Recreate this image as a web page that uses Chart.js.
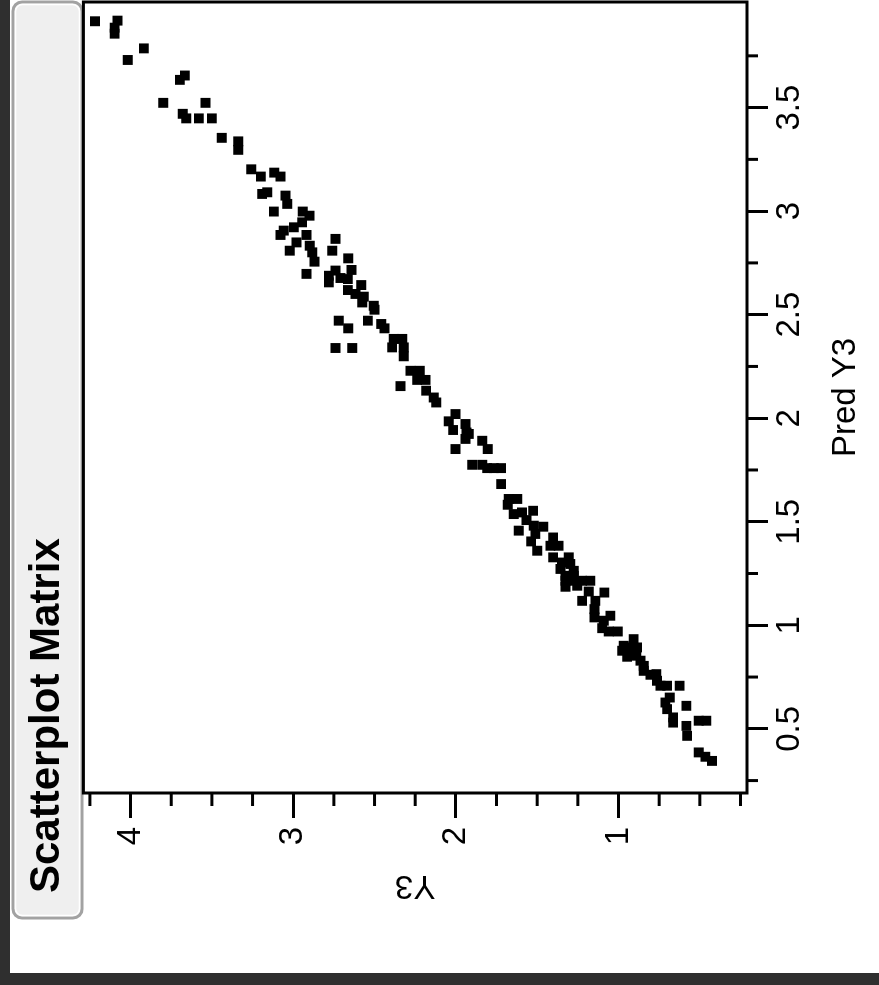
<!DOCTYPE html>
<html>
<head>
<meta charset="utf-8">
<script src="https://cdn.jsdelivr.net/npm/chart.js@4/dist/chart.umd.min.js"></script>
<style>
  body { margin: 0; width: 879px; height: 985px; overflow: hidden; background: #2f2f2f; }
  #wrap {
    position: absolute; left: 10px; top: 0;
    width: 973px; height: 869px;
    transform-origin: 0 0;
    transform: translate(0, 973px) rotate(-90deg);
    background: #fff;
  }
  canvas { display: block; }
</style>
</head>
<body>
<div id="wrap"><canvas id="chart" width="973" height="869"></canvas></div>
<script>
// values
const predY3 = [
  3.917, 3.920, 3.886, 3.857, 3.786, 3.730, 3.655, 3.634, 3.523, 3.523,
  3.470, 3.448, 3.448, 3.448, 3.354, 3.337, 3.296, 3.202, 3.167, 3.186,
  3.167, 3.083, 3.091, 3.075, 3.035, 2.998, 2.998, 2.978, 2.946, 2.922,
  2.906, 2.885, 2.885, 2.849, 2.809, 2.833, 2.801, 2.756, 2.697, 2.866,
  2.809, 2.772, 2.716, 2.713, 2.688, 2.656, 2.677, 2.672, 2.619, 2.643,
  2.600, 2.587, 2.559, 2.543, 2.524, 2.471, 2.471, 2.434, 2.455, 2.434,
  2.383, 2.383, 2.342, 2.342, 2.299, 2.339, 2.339, 2.229, 2.229, 2.185,
  2.185, 2.155, 2.133, 2.100, 2.076, 2.020, 1.985, 1.943, 1.972, 1.931,
  1.924, 1.900, 1.851, 1.891, 1.851, 1.775, 1.775, 1.759, 1.759, 1.759,
  1.682, 1.610, 1.610, 1.582, 1.537, 1.545, 1.553, 1.508, 1.457, 1.481,
  1.476, 1.441, 1.405, 1.360, 1.424, 1.384, 1.384, 1.328, 1.328, 1.303,
  1.296, 1.272, 1.263, 1.239, 1.239, 1.215, 1.215, 1.215, 1.215, 1.186,
  1.191, 1.163, 1.158, 1.118, 1.118, 1.078, 1.038, 1.046, 1.022, 0.986,
  0.970, 0.970, 0.933, 0.901, 0.893, 0.893, 0.877, 0.861, 0.848, 0.853,
  0.829, 0.804, 0.780, 0.761, 0.764, 0.732, 0.708, 0.708, 0.708, 0.651,
  0.627, 0.595, 0.555, 0.530, 0.611, 0.539, 0.539, 0.514, 0.466, 0.386,
  0.365, 0.345
];
const y3 = [
  4.219, 4.080, 4.098, 4.098, 3.918, 4.017, 3.666, 3.697, 3.799, 3.539,
  3.679, 3.658, 3.580, 3.500, 3.439, 3.338, 3.338, 3.258, 3.199, 3.117,
  3.078, 3.191, 3.160, 3.047, 3.037, 3.119, 2.941, 2.900, 2.945, 2.996,
  3.058, 3.078, 2.918, 2.980, 3.021, 2.898, 2.883, 2.869, 2.918, 2.740,
  2.760, 2.662, 2.642, 2.740, 2.781, 2.781, 2.709, 2.664, 2.664, 2.582,
  2.617, 2.566, 2.576, 2.505, 2.500, 2.541, 2.720, 2.662, 2.459, 2.439,
  2.382, 2.330, 2.392, 2.320, 2.320, 2.740, 2.637, 2.279, 2.222, 2.238,
  2.187, 2.340, 2.183, 2.136, 2.121, 2.002, 2.044, 2.017, 1.941, 1.935,
  1.921, 1.941, 2.002, 1.838, 1.804, 1.900, 1.838, 1.808, 1.767, 1.722,
  1.722, 1.675, 1.623, 1.681, 1.644, 1.593, 1.525, 1.566, 1.613, 1.521,
  1.463, 1.511, 1.537, 1.500, 1.402, 1.419, 1.368, 1.402, 1.306, 1.347,
  1.296, 1.357, 1.275, 1.326, 1.275, 1.326, 1.275, 1.224, 1.173, 1.326,
  1.254, 1.183, 1.087, 1.224, 1.142, 1.148, 1.148, 1.050, 1.091, 1.101,
  1.060, 1.005, 0.907, 0.968, 0.916, 0.886, 0.978, 0.937, 0.947, 0.890,
  0.865, 0.845, 0.845, 0.804, 0.767, 0.763, 0.742, 0.701, 0.624, 0.685,
  0.712, 0.701, 0.664, 0.664, 0.583, 0.507, 0.460, 0.583, 0.578, 0.507,
  0.466, 0.425
];

// tick marks (minor + major) and the labels shown on the major ones
const xTickValues = [0.25, 0.5, 0.75, 1, 1.25, 1.5, 1.75, 2, 2.25, 2.5, 2.75, 3, 3.25, 3.5, 3.75];
const xTickLabels = ['0.5', '1', '1.5', '2', '2.5', '3', '3.5'];
const yTickValues = [0.25, 0.5, 0.75, 1, 1.25, 1.5, 1.75, 2, 2.25, 2.5, 2.75, 3, 3.25, 3.5, 3.75, 4, 4.25];
const yTickLabels = ['1', '2', '3', '4'];

Chart.defaults.font.family = '"Liberation Sans", Arial, sans-serif';
Chart.defaults.color = '#000';

const isMajor = (labels, v) => labels.includes(String(v));

// title box, frame round the plot, short minor ticks
const decorations = {
  id: 'decorations',
  afterLayout(chart) {
    chart.titleBlock.left = 80;
  },
  beforeDraw(chart) {
    const ctx = chart.ctx;
    const x = 55, y = 3, w = 916, h = 69, r = 9;
    ctx.save();
    ctx.beginPath();
    ctx.moveTo(x + r, y);
    ctx.arcTo(x + w, y, x + w, y + h, r);
    ctx.arcTo(x + w, y + h, x, y + h, r);
    ctx.arcTo(x, y + h, x, y, r);
    ctx.arcTo(x, y, x + w, y, r);
    ctx.closePath();
    ctx.fillStyle = '#efefef';
    ctx.fill();
    ctx.lineWidth = 3;
    ctx.strokeStyle = '#a2a2a2';
    ctx.stroke();
    ctx.beginPath();
    ctx.moveTo(x + r, y + 2.5);
    ctx.arcTo(x + w - 2.5, y + 2.5, x + w - 2.5, y + h - 2.5, r - 2);
    ctx.arcTo(x + w - 2.5, y + h - 2.5, x + 2.5, y + h - 2.5, r - 2);
    ctx.arcTo(x + 2.5, y + h - 2.5, x + 2.5, y + 2.5, r - 2);
    ctx.arcTo(x + 2.5, y + 2.5, x + w - 2.5, y + 2.5, r - 2);
    ctx.closePath();
    ctx.lineWidth = 1.5;
    ctx.strokeStyle = '#ffffff';
    ctx.stroke();
    ctx.restore();
  },
  afterDraw(chart) {
    const {ctx, chartArea: a, scales: {x, y}} = chart;
    ctx.save();
    ctx.strokeStyle = '#000';
    ctx.lineWidth = 3;
    ctx.strokeRect(a.left, a.top, a.right - a.left, a.bottom - a.top);
    x.ticks.forEach(t => {
      if (isMajor(xTickLabels, t.value)) return;
      const px = x.getPixelForValue(t.value);
      ctx.beginPath();
      ctx.moveTo(px, a.bottom);
      ctx.lineTo(px, a.bottom + 11);
      ctx.stroke();
    });
    y.ticks.forEach(t => {
      if (isMajor(yTickLabels, t.value)) return;
      const py = y.getPixelForValue(t.value);
      ctx.beginPath();
      ctx.moveTo(a.left, py);
      ctx.lineTo(a.left - 13, py);
      ctx.stroke();
    });
    ctx.restore();
  }
};

new Chart(document.getElementById('chart'), {
  type: 'scatter',
  data: {
    datasets: [{
      data: predY3.map((p, i) => ({x: p, y: y3[i]})),
      pointStyle: 'rect',
      radius: 7,
      backgroundColor: '#000',
      borderColor: '#000',
      borderWidth: 0
    }]
  },
  options: {
    responsive: false,
    animation: false,
    layout: { autoPadding: false, padding: { left: 0, right: 2, top: 0, bottom: 0 } },
    plugins: {
      legend: { display: false },
      tooltip: { enabled: false },
      title: {
        display: true,
        text: 'Scatterplot Matrix',
        align: 'start',
        color: '#000',
        font: { size: 42, weight: 'bold' },
        padding: { top: 12, bottom: 11 }
      }
    },
    scales: {
      x: {
        type: 'linear',
        position: 'bottom',
        min: 0.19,
        max: 4.01,
        afterBuildTicks: s => { s.ticks = xTickValues.map(v => ({value: v})); },
        afterFit: s => { s.height = 132; s.paddingLeft = 0; s.paddingRight = 0; },
        ticks: {
          autoSkip: false, maxRotation: 0, minRotation: 0, padding: 2,
          font: { size: 33 },
          callback: v => isMajor(xTickLabels, v) ? String(v) : ''
        },
        grid: {
          drawOnChartArea: false, drawTicks: true, tickLength: 21, tickWidth: 3,
          tickColor: c => isMajor(xTickLabels, c.tick.value) ? '#000' : 'rgba(0,0,0,0)'
        },
        border: { display: false },
        title: { display: true, text: 'Pred Y3', font: { size: 33 }, padding: { top: 0, bottom: 13 } }
      },
      y: {
        type: 'linear',
        position: 'left',
        min: 0.21,
        max: 4.29,
        afterBuildTicks: s => { s.ticks = yTickValues.map(v => ({value: v})); },
        afterFit: s => { s.width = 180; s.paddingTop = 0; s.paddingBottom = 0; },
        ticks: {
          autoSkip: false, padding: 9,
          font: { size: 33 },
          callback: v => isMajor(yTickLabels, v) ? String(v) : ''
        },
        grid: {
          drawOnChartArea: false, drawTicks: true, tickLength: 25, tickWidth: 3,
          tickColor: c => isMajor(yTickLabels, c.tick.value) ? '#000' : 'rgba(0,0,0,0)'
        },
        border: { display: false },
        title: { display: true, text: 'Y3', font: { size: 33 }, padding: { top: 68, bottom: 0 } }
      }
    }
  },
  plugins: [decorations]
});
</script>
</body>
</html>
